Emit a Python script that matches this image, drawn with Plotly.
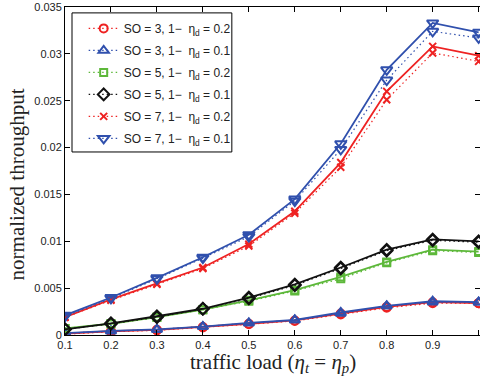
import plotly.graph_objects as go

x_load = [0.1, 0.2, 0.3, 0.4, 0.5, 0.6, 0.7, 0.8, 0.9, 1.0]

so3_d02_sim = [0.00015, 0.0004, 0.00055, 0.00085, 0.0012, 0.00155, 0.0023, 0.0030, 0.0035, 0.0034]
so3_d02_ana = [0.0001, 0.00035, 0.0005, 0.0008, 0.00115, 0.0015, 0.0022, 0.0029, 0.0034, 0.0034]
so3_d01_sim = [0.0002, 0.00045, 0.0006, 0.0009, 0.0013, 0.0016, 0.0024, 0.0031, 0.0036, 0.0035]
so3_d01_ana = [0.0002, 0.0004, 0.0006, 0.0009, 0.00125, 0.0016, 0.0023, 0.0031, 0.0035, 0.0035]

so5_d02_sim = [0.0007, 0.0012, 0.0019, 0.0027, 0.0037, 0.0048, 0.0062, 0.0078, 0.0091, 0.0089]
so5_d02_ana = [0.0007, 0.0012, 0.0019, 0.0027, 0.0036, 0.0047, 0.0060, 0.0077, 0.0090, 0.0088]
so5_d01_sim = [0.0006, 0.00125, 0.0020, 0.0028, 0.0040, 0.0054, 0.0072, 0.0091, 0.0102, 0.0100]
so5_d01_ana = [0.0006, 0.0012, 0.0019, 0.0028, 0.0039, 0.0053, 0.0071, 0.0090, 0.0101, 0.0099]

so7_d02_sim = [0.0019, 0.0038, 0.0055, 0.0072, 0.0097, 0.0132, 0.0184, 0.0260, 0.0308, 0.0298]
so7_d02_ana = [0.0019, 0.0037, 0.0054, 0.0071, 0.0095, 0.0130, 0.0179, 0.0251, 0.0301, 0.0292]
so7_d01_sim = [0.0021, 0.0040, 0.0061, 0.0083, 0.0107, 0.0145, 0.0204, 0.0283, 0.0333, 0.0323]
so7_d01_ana = [0.0020, 0.0039, 0.0060, 0.0082, 0.0105, 0.0143, 0.0198, 0.0272, 0.0324, 0.0317]

x_ticks = ["0.1", "0.2", "0.3", "0.4", "0.5", "0.6", "0.7", "0.8", "0.9", "1"]
y_tickvals = [0, 0.005, 0.01, 0.015, 0.02, 0.025, 0.03, 0.035]
y_ticks = ["0", "0.005", "0.01", "0.015", "0.02", "0.025", "0.03", "0.035"]

labels = [
    "SO = 3, 1\u2212  \u03b7<sub>d</sub> = 0.2",
    "SO = 3, 1\u2212  \u03b7<sub>d</sub> = 0.1",
    "SO = 5, 1\u2212  \u03b7<sub>d</sub> = 0.2",
    "SO = 5, 1\u2212  \u03b7<sub>d</sub> = 0.1",
    "SO = 7, 1\u2212  \u03b7<sub>d</sub> = 0.2",
    "SO = 7, 1\u2212  \u03b7<sub>d</sub> = 0.1",
]

RED = "#ee2222"
BLUE = "#3050ad"
GREEN = "#5db83a"
BLACK = "#111111"

series = [
    (labels[0], so3_d02_sim, so3_d02_ana, RED, "circle-open", 8),
    (labels[1], so3_d01_sim, so3_d01_ana, BLUE, "triangle-up-open", 9),
    (labels[2], so5_d02_sim, so5_d02_ana, GREEN, "square-open", 7),
    (labels[3], so5_d01_sim, so5_d01_ana, BLACK, "diamond-open", 9),
    (labels[4], so7_d02_sim, so7_d02_ana, RED, "x-thin-open", 7),
    (labels[5], so7_d01_sim, so7_d01_ana, BLUE, "triangle-down-open", 10),
]

fig = go.Figure()
for i, (name, sim, ana, col, sym, sz) in enumerate(series):
    fig.add_trace(go.Scatter(
        x=x_load, y=ana, mode="lines+markers", name=name,
        legendgroup=f"g{i}", showlegend=True,
        line=dict(color=col, width=1.2, dash="1.5px,3px"),
        marker=dict(symbol=sym, size=sz, color=col, line=dict(color=col, width=2)),
    ))
    fig.add_trace(go.Scatter(
        x=x_load, y=sim, mode="lines+markers", name=name,
        legendgroup=f"g{i}", showlegend=False,
        line=dict(color=col, width=1.8),
        marker=dict(symbol=sym, size=sz, color=col, line=dict(color=col, width=2)),
    ))

serif = "Liberation Serif, Times New Roman, serif"

fig.update_layout(
    width=480, height=378,
    margin=dict(l=65, r=0, t=7, b=43),
    paper_bgcolor="white", plot_bgcolor="white",
    font=dict(family="Liberation Sans, Arial, sans-serif", size=11, color="#222"),
    showlegend=True,
    legend=dict(
        x=0.045, y=0.979, xanchor="left", yanchor="top",
        bgcolor="rgba(0,0,0,0)", borderwidth=0,
        font=dict(family="Liberation Sans, Arial, sans-serif", size=12, color="#222"),
        tracegroupgap=3,
    ),
    shapes=[
        dict(type="rect", xref="paper", yref="paper",
             x0=0.0169, x1=0.402, y0=0.558, y1=0.982,
             line=dict(color="black", width=1), fillcolor="white", layer="above"),
    ],
    xaxis=dict(
        range=[0.1, 1.003], tickvals=x_load, ticktext=x_ticks,
        showgrid=False, zeroline=False, automargin=False,
        showline=True, linecolor="black", linewidth=1, mirror="ticks",
        ticks="inside", ticklen=5, tickcolor="black",
    ),
    yaxis=dict(
        range=[0, 0.035], tickvals=y_tickvals, ticktext=y_ticks,
        showgrid=False, zeroline=False, automargin=False,
        showline=True, linecolor="black", linewidth=1, mirror="ticks",
        ticks="inside", ticklen=5, tickcolor="black",
    ),
    annotations=[
        dict(text="traffic load (<i>\u03b7<sub>t</sub></i> = <i>\u03b7<sub>p</sub></i>)",
             xref="paper", yref="paper", x=0.5, y=-0.085, xanchor="center", yanchor="middle",
             showarrow=False, font=dict(family=serif, size=21, color="#222")),
        dict(text="normalized throughput",
             xref="paper", yref="paper", x=-0.115, y=0.46, xanchor="center", yanchor="middle",
             textangle=-90, showarrow=False, font=dict(family=serif, size=21, color="#222")),
    ],
)

fig.write_html("out.html", config={"displayModeBar": False},
               post_script="document.body.style.margin='0';document.body.style.padding='0';")
